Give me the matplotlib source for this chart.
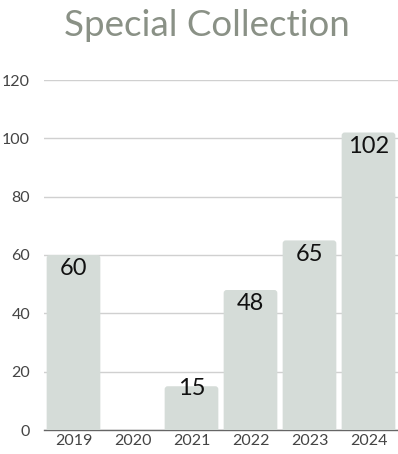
import matplotlib.pyplot as plt
from matplotlib.patches import FancyBboxPatch

years = ["2019", "2020", "2021", "2022", "2023", "2024"]
counts = [60, 0, 15, 48, 65, 102]
y_ticks = [0, 20, 40, 60, 80, 100, 120]

plt.rcParams["font.family"] = ["Lato", "DejaVu Sans"]

fig = plt.figure(figsize=(3.98, 4.54), dpi=100)
ax = fig.add_axes([44 / 398, 24 / 454, 354 / 398, 350 / 454])
ax.set_axisbelow(True)

ax.set_xlim(-0.5, len(years) - 0.5)
ax.set_ylim(0, 120)

x = range(len(years))
bars = ax.bar(x, counts, width=0.91, color="#d5dcd8", zorder=2)

# swap plain rectangles for ones with softly rounded tops
px_x = 1 / 59.0
px_y = 120 / 350.0
for b in bars:
    h = b.get_height()
    b.set_visible(False)
    if h <= 0:
        continue
    rs = 3 * px_x
    patch = FancyBboxPatch((b.get_x(), -4 * px_y), b.get_width(), h + 4 * px_y,
                           boxstyle=f"round,pad=0,rounding_size={rs}",
                           mutation_aspect=px_y / px_x,
                           facecolor="#d5dcd8", edgecolor="none", zorder=2)
    ax.add_patch(patch)

for b, v in zip(bars, counts):
    if v <= 0:
        continue
    cx = b.get_x() + b.get_width() / 2
    dy = 6 if v < 20 else -2.5
    ax.annotate(str(v), (cx, v), xytext=(0, dy), textcoords="offset points",
                ha="center", va="top", fontsize=17, color="#111111", zorder=3)

ax.set_yticks(y_ticks)
ax.set_xticks(list(x))
ax.set_xticklabels(years)
ax.tick_params(axis="both", length=0, labelsize=11.5, colors="#444444")
ax.tick_params(axis="y", pad=10)
ax.tick_params(axis="x", pad=3)

ax.grid(axis="y", color="#d0d0d0", linewidth=1)
for s in ["top", "right", "left"]:
    ax.spines[s].set_visible(False)
ax.spines["bottom"].set_color("#666666")
ax.spines["bottom"].set_linewidth(1)
ax.spines["bottom"].set_zorder(1.5)

fig.text(207 / 398, 1 - 25 / 454, "Special Collection", ha="center", va="center",
         fontsize=26.5, color="#8a9186")

plt.savefig("out.png", dpi=100)
